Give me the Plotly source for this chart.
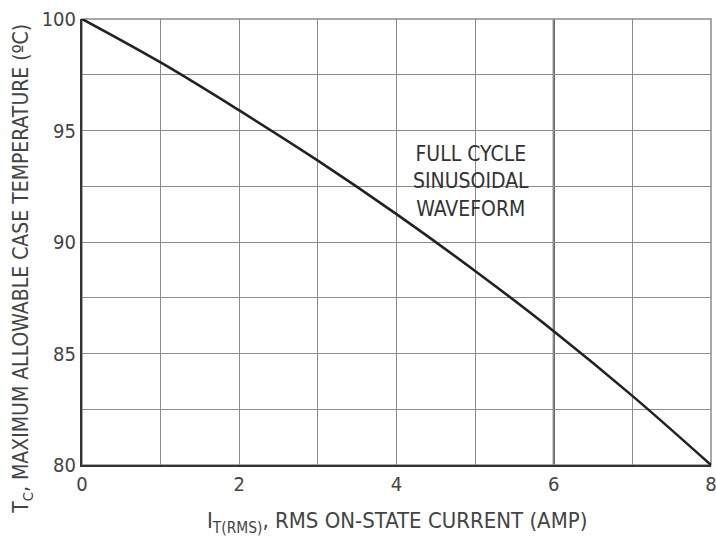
import plotly.graph_objects as go

# Data
current_amp = [0, 1, 2, 3, 4, 5, 6, 7, 8]
case_temp_c = [100, 98.05, 95.9, 93.65, 91.25, 88.7, 86.0, 83.1, 80.0]

x_ticks = [0, 2, 4, 6, 8]
y_ticks = [80, 85, 90, 95, 100]
annotation_lines = ["FULL CYCLE", "SINUSOIDAL", "WAVEFORM"]
x_title = "I<sub>T(RMS)</sub>, RMS ON-STATE CURRENT (AMP)"
y_title = "T<sub>C</sub>, MAXIMUM ALLOWABLE CASE TEMPERATURE (ºC)"

FONT = "Liberation Sans Narrow, Arial Narrow, DejaVu Sans Condensed, sans-serif"
GRID = "#8c8c8c"
TXT = "#444444"

fig = go.Figure()
fig.add_trace(go.Scatter(
    x=current_amp, y=case_temp_c, mode="lines",
    line=dict(color="#222222", width=2.6, shape="spline", smoothing=1.0),
    hoverinfo="skip", showlegend=False, cliponaxis=False,
))

fig.add_vline(x=6, line=dict(color="#333333", width=2), layer="below")

fig.add_annotation(
    x=4.95, y=92.7, xref="x", yref="y",
    text="<br>".join(annotation_lines),
    showarrow=False, align="center",
    font=dict(family=FONT, size=21, color="#333333"),
)

# axis titles as annotations for precise placement
fig.add_annotation(
    x=0.5, y=-0.128, xref="paper", yref="paper",
    text=x_title, showarrow=False, xanchor="center", yanchor="middle",
    font=dict(family=FONT, size=22, color=TXT),
)
fig.add_annotation(
    x=0, y=0.44, xref="paper", yref="paper", xshift=-60,
    text=y_title, showarrow=False, textangle=-90,
    xanchor="center", yanchor="middle",
    font=dict(family=FONT, size=21, color=TXT),
)

fig.update_xaxes(
    range=[0, 8], tickvals=x_ticks, ticktext=[str(v) for v in x_ticks],
    showgrid=True, gridcolor=GRID, gridwidth=1,
    minor=dict(dtick=1, showgrid=True, gridcolor=GRID, gridwidth=1),
    showline=True, linecolor="#333333", linewidth=2,
    ticks="", zeroline=False, automargin=False, ticklabeloverflow="allow",
    tickfont=dict(family=FONT, size=20, color=TXT),
)
fig.update_yaxes(
    range=[80, 100], tickvals=y_ticks, ticktext=[str(v) for v in y_ticks],
    showgrid=True, gridcolor=GRID, gridwidth=1,
    minor=dict(dtick=2.5, showgrid=True, gridcolor=GRID, gridwidth=1),
    showline=True, linecolor="#333333", linewidth=2,
    ticks="", zeroline=False, automargin=False, ticklabeloverflow="allow",
    tickfont=dict(family=FONT, size=20, color=TXT),
)

# top/right gray border
fig.add_shape(type="rect", xref="paper", yref="paper", x0=0, y0=0, x1=1, y1=1,
              line=dict(color=GRID, width=1.5), layer="below")

fig.update_layout(
    width=716, height=551,
    margin=dict(l=82, r=5, t=19, b=86),
    plot_bgcolor="white", paper_bgcolor="white",
    font=dict(family=FONT),
)

fig.write_html(
    "out.html",
    config={"displayModeBar": False},
    post_script="document.body.style.margin='0';document.body.style.overflow='hidden';",
)
